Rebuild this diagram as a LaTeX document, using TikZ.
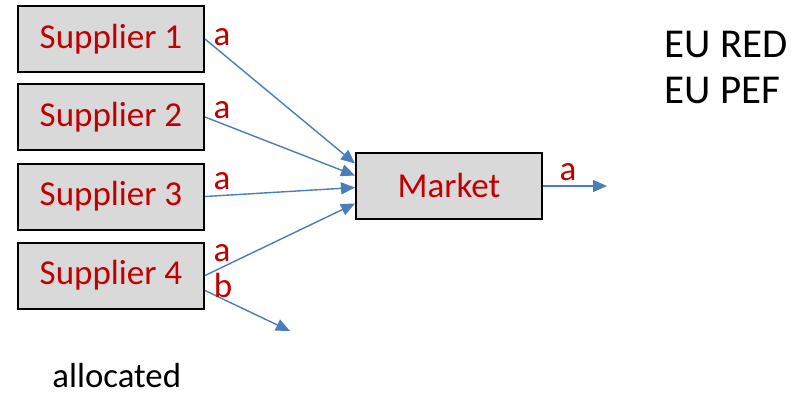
\documentclass[tikz,border=0pt]{standalone}
\usepackage{fontspec}
\setmainfont{Carlito}
\usetikzlibrary{arrows.meta,calc}
\definecolor{boxgray}{HTML}{D9D9D9}
\definecolor{txtred}{HTML}{C00000}
\definecolor{flowblue}{HTML}{4A7EBB}
\tikzset{
  unit/.style={draw=black,line width=1pt,fill=boxgray,text=txtred,minimum width=93pt,minimum height=33pt,inner sep=0pt,font=\fontsize{17.5}{21}\selectfont},
  flow/.style={-{Triangle[length=7pt,width=6pt]},color=flowblue,line width=0.7pt},
  lab/.style={text=txtred,inner sep=0pt,font=\fontsize{17.5}{20}\selectfont},
  plain/.style={inner sep=0pt,anchor=base west}
}
\begin{document}
\begin{tikzpicture}[x=0.5pt,y=-0.5pt]
\useasboundingbox (0,0) rectangle (801,393);

% suppliers and market
\node[unit] (s1) at (111,39) {Supplier 1};
\node[unit] (s2) at (111,117) {Supplier 2};
\node[unit] (s3) at (111,196.5) {Supplier 3};
\node[unit] (s4) at (111,275.5) {Supplier 4};
\node[unit] (market) at (449,185.5) {Market};

% free ends
\coordinate (out) at (607,186);
\coordinate (side) at (290,331);

\draw[flow] (s1.east) -- ($(market.west)+(0,-22)$);
\draw[flow] (s2.east) -- ($(market.west)+(0,-10)$);
\draw[flow] (s3.east) -- ($(market.west)+(0,2)$);
\draw[flow] (s4.east) -- ($(market.west)+(0,18)$);
\draw[flow] ($(s4.east)+(0,15)$) -- (side);
\draw[flow] (market.east |- out) -- (out);

% flow labels
\node[lab] (a1) at (222,37) {a};
\node[lab] (a2) at (222,110) {a};
\node[lab] (a3) at (222,181) {a};
\node[lab] (a4) at (222,253) {a};
\node[lab] (b4) at (223,285) {b};
\node[lab] (am) at (568,172) {a};

\node[plain,font=\fontsize{20.5}{24}\selectfont] (eured) at (664,57) {EU RED};
\node[plain,font=\fontsize{20.5}{24}\selectfont] (eupef) at (664,103) {EU PEF};
\node[plain,font=\fontsize{17.4}{20}\selectfont] (alloc) at (52,387) {allocated};
\end{tikzpicture}
\end{document}
